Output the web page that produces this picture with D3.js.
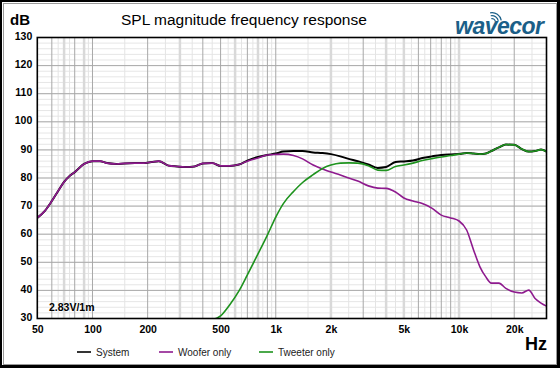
<!DOCTYPE html>
<html>
<head>
<meta charset="utf-8">
<script src="https://cdn.jsdelivr.net/npm/d3@7"></script>
<style>
  body { margin: 0; background: #fff; }
  svg { display: block; font-family: "Liberation Sans", Arial, sans-serif; }
</style>
</head>
<body>
<svg id="chart" width="560" height="368"></svg>
<script>
// frequency points (Hz) shared by all three curves
const freqs = [50, 55, 60, 65, 70, 75, 80, 90, 100, 110, 120, 135, 150, 170, 190, 210, 230, 260, 290, 320,
  360, 400, 450, 500, 560, 630, 700, 800, 900, 1000, 1100, 1250, 1400, 1600, 1800, 2000, 2250, 2500, 2800, 3200,
  3600, 4000, 4500, 5000, 5600, 6300, 7100, 8000, 9000, 10000, 11000, 12000, 13000, 14000, 15000, 16500, 18000,
  20000, 22000, 24000, 26000, 28000, 30000];

const systemDb = [65.8, 68.3, 71.8, 75.4, 78.6, 80.7, 82.1, 85.0, 86.0, 86.0, 85.3, 85.0, 85.2, 85.3, 85.3, 85.7, 86.0, 84.4, 84.1, 83.9,
  84.1, 85.2, 85.3, 84.3, 84.3, 84.8, 86.2, 87.5, 88.2, 88.7, 89.4, 89.6, 89.6, 89.1, 88.9, 88.5, 87.7, 86.8, 86.0, 84.8,
  83.6, 83.9, 85.7, 85.9, 86.2, 87.1, 87.7, 88.2, 88.4, 88.5, 88.9, 88.7, 88.5, 88.7, 89.6, 90.9, 91.9,
  91.8, 90.3, 89.4, 89.6, 90.1, 89.4];

const wooferDb = [65.8, 68.3, 71.8, 75.4, 78.6, 80.7, 82.1, 85.0, 86.0, 86.0, 85.3, 85.0, 85.2, 85.3, 85.3, 85.7, 86.0, 84.4, 84.1, 83.9,
  84.1, 85.2, 85.3, 84.3, 84.3, 84.8, 86.0, 87.1, 88.2, 88.4, 88.5, 88.0, 86.8, 84.6, 83.2, 82.1, 81.1, 80.0, 78.9, 77.2,
  76.4, 76.3, 75.0, 72.9, 71.8, 70.9, 69.3, 66.8, 65.8, 64.7, 61.5, 54.4, 48.4, 44.8, 42.6, 42.6, 40.7,
  39.4, 39.1, 40.1, 37.1, 35.5, 34.4];

const tweeterDb = [null, null, null, null, null, null, null, null, null, null, null, null, null, null, null, null, null, null, null, null,
  null, null, 29.5, 30.9, 34.8, 39.8, 45.5, 53.0, 59.7, 66.1, 70.9, 75.2, 78.4, 81.2, 83.4, 84.6, 85.3, 85.4, 85.3, 84.4,
  82.8, 82.7, 84.1, 84.6, 85.3, 86.2, 86.9, 87.5, 88.0, 88.5, 88.9, 88.7, 88.5, 88.7, 89.6, 90.9, 91.9,
  91.8, 90.3, 89.4, 89.6, 90.1, 89.4];

const xTicks = [50, 100, 200, 500, 1000, 2000, 5000, 10000, 20000];
const xTickLabels = ["50", "100", "200", "500", "1k", "2k", "5k", "10k", "20k"];
const yTicks = [30, 40, 50, 60, 70, 80, 90, 100, 110, 120, 130];

// vertical grid lines of the original, three kinds
const gridDark = [60, 80, 100, 200, 400, 500, 700, 900, 1000, 3000, 6000, 7000, 8000, 9000, 20000];
const gridBand = [70, 90, 300, 600, 800, 2000, 4000, 5000, 10000];
const gridLight = [65, 75, 95, 150, 250, 350, 450, 550, 650, 750, 850, 950, 1500, 2500, 3500, 4500, 5500,
  6500, 7500, 8500, 9500, 15000, 25000];

const seriesNames = ["System", "Woofer only", "Tweeter only"];
const seriesColors = ["#000000", "#8e1a8e", "#1e931e"];

const svg = d3.select("#chart");
const W = 560, H = 368;
const plot = { left: 37.3, right: 546.5, top: 37.5, bottom: 318.5 };

// outer frame
svg.append("rect").attr("x", 0).attr("y", 0).attr("width", W).attr("height", H).attr("fill", "#fff");
svg.append("rect").attr("x", 1).attr("y", 1).attr("width", W - 2).attr("height", H - 2)
  .attr("fill", "none").attr("stroke", "#000").attr("stroke-width", 2);
svg.append("rect").attr("x", 3.5).attr("y", 3.5).attr("width", W - 7).attr("height", H - 7)
  .attr("fill", "none").attr("stroke", "#9a9a9a").attr("stroke-width", 1);
svg.append("line").attr("x1", 2).attr("x2", W).attr("y1", H - 1.5).attr("y2", H - 1.5)
  .attr("stroke", "#000").attr("stroke-width", 3);
svg.append("line").attr("x1", W - 1.5).attr("x2", W - 1.5).attr("y1", 2).attr("y2", H)
  .attr("stroke", "#000").attr("stroke-width", 3);

const x = d3.scaleLog().domain([50, 30000]).range([plot.left, plot.right]);
const y = d3.scaleLinear().domain([30, 130]).range([plot.bottom, plot.top]);

const grid = svg.append("g");
// horizontal minor every 2 dB
grid.selectAll(".hminor").data(d3.range(30, 131, 2)).enter().append("line")
  .attr("x1", plot.left).attr("x2", plot.right)
  .attr("y1", d => y(d)).attr("y2", d => y(d))
  .attr("stroke", "#e6e6e6").attr("stroke-width", 1);
// vertical light
grid.selectAll(".vlight").data(gridLight).enter().append("line")
  .attr("x1", d => x(d)).attr("x2", d => x(d))
  .attr("y1", plot.top).attr("y2", plot.bottom)
  .attr("stroke", "#e4e4e4").attr("stroke-width", 1);
grid.selectAll(".vband").data(gridBand).enter().append("line")
  .attr("x1", d => x(d)).attr("x2", d => x(d))
  .attr("y1", plot.top).attr("y2", plot.bottom)
  .attr("stroke", "#d9d9d9").attr("stroke-width", 2.5);
// horizontal major
grid.selectAll(".hmajor").data(yTicks).enter().append("line")
  .attr("x1", plot.left).attr("x2", plot.right)
  .attr("y1", d => y(d)).attr("y2", d => y(d))
  .attr("stroke", "#ababab").attr("stroke-width", 1);
grid.selectAll(".vdark").data(gridDark).enter().append("line")
  .attr("x1", d => x(d)).attr("x2", d => x(d))
  .attr("y1", plot.top).attr("y2", plot.bottom)
  .attr("stroke", "#a8a8a8").attr("stroke-width", 1);

// curves
svg.append("clipPath").attr("id", "clip").append("rect")
  .attr("x", plot.left).attr("y", plot.top)
  .attr("width", plot.right - plot.left).attr("height", plot.bottom - plot.top);

const line = d3.line()
  .defined(d => d.v != null)
  .x(d => x(d.f))
  .y(d => y(d.v))
  .curve(d3.curveMonotoneX);

const series = [systemDb, wooferDb, tweeterDb];
const curves = svg.append("g").attr("clip-path", "url(#clip)");
series.forEach((vals, i) => {
  curves.append("path")
    .datum(freqs.map((f, j) => ({ f: f, v: vals[j] })))
    .attr("fill", "none")
    .attr("stroke", seriesColors[i])
    .attr("stroke-width", i === 0 ? 2 : 1.6)
    .attr("stroke-linejoin", "round")
    .attr("d", line);
});

// plot frame
svg.append("rect").attr("x", plot.left).attr("y", plot.top)
  .attr("width", plot.right - plot.left).attr("height", plot.bottom - plot.top)
  .attr("fill", "none").attr("stroke", "#000").attr("stroke-width", 1.6);

// axes
const xAxis = svg.append("g")
  .attr("transform", `translate(0,${plot.bottom})`)
  .call(d3.axisBottom(x).tickValues(xTicks).tickSize(0).tickPadding(7)
    .tickFormat((d, i) => xTickLabels[i]));
const yAxis = svg.append("g")
  .attr("transform", `translate(${plot.left},0)`)
  .call(d3.axisLeft(y).tickValues(yTicks).tickSize(0).tickPadding(5));
[xAxis, yAxis].forEach(a => {
  a.select(".domain").remove();
  a.selectAll("text").attr("font-family", "Liberation Sans, Arial, sans-serif")
    .attr("font-size", 10.5).attr("font-weight", "bold").attr("fill", "#000");
});
yAxis.selectAll("text").attr("dy", "0.2em");

// texts
svg.append("text").attr("x", 10).attr("y", 25).attr("font-size", 15).attr("font-weight", "bold").text("dB");
svg.append("text").attr("x", 121).attr("y", 25).attr("font-size", 15.5).text("SPL magnitude frequency response");
svg.append("text").attr("x", 547).attr("y", 350).attr("text-anchor", "end")
  .attr("font-size", 18).attr("font-weight", "bold").text("Hz");
svg.append("text").attr("x", 49).attr("y", 311).attr("font-size", 10.5).attr("font-weight", "bold").text("2.83V/1m");

// legend
const legendX = [77, 159, 259];
const legend = svg.append("g");
seriesNames.forEach((name, i) => {
  legend.append("line").attr("x1", legendX[i]).attr("x2", legendX[i] + 14)
    .attr("y1", 352).attr("y2", 352)
    .attr("stroke", seriesColors[i]).attr("stroke-width", 1.6);
  legend.append("text").attr("x", legendX[i] + 19).attr("y", 355.5)
    .attr("font-size", 10).attr("fill", "#222").text(name);
});

// logo
const logo = svg.append("g").attr("fill", "#1b5f88");
logo.append("text").attr("x", 455).attr("y", 34)
  .attr("font-size", 23).attr("font-style", "italic").attr("font-weight", "bold")
  .attr("letter-spacing", -0.5).text("wavecor");
[4, 7, 10].forEach(r => {
  logo.append("path")
    .attr("d", d3.arc()({ innerRadius: r - 1.2, outerRadius: r, startAngle: -0.2, endAngle: 1.4 }))
    .attr("transform", "translate(492,22)");
});
</script>
</body>
</html>
